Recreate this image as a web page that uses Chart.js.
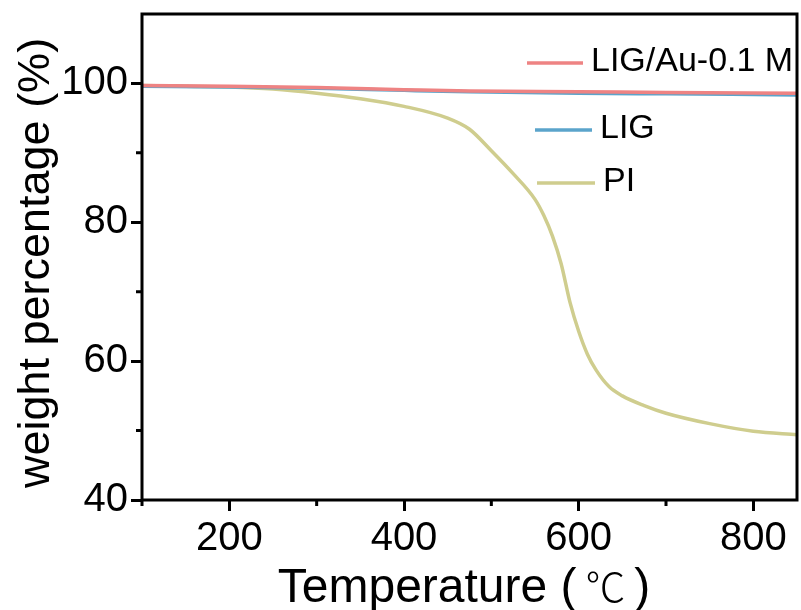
<!DOCTYPE html>
<html>
<head>
<meta charset="utf-8">
<script src="https://cdn.jsdelivr.net/npm/chart.js@4.4.0/dist/chart.umd.min.js"></script>
<style>
    html, body { margin: 0; padding: 0; background: #fff; }
    canvas { display: block; }
</style>
</head>
<body>
<canvas id="tgaChart" width="801" height="610"></canvas>
<script>
// TGA curves: temperature (°C) vs remaining weight (%)
const piTemp = [100, 150, 200, 250, 300, 350, 400, 450, 475, 500, 525, 550, 560, 570, 580, 590, 600, 610, 620, 635, 650, 675, 700, 750, 800, 850];
const piWeight = [99.7, 99.6, 99.5, 99.2, 98.6, 97.8, 96.7, 95.0, 93.4, 90.3, 87.0, 83.3, 81.0, 78.0, 74.0, 68.5, 64.3, 61.0, 58.7, 56.3, 55.0, 53.6, 52.5, 51.0, 49.9, 49.4];

const ligTemp = [100, 200, 300, 400, 475, 600, 700, 850];
const ligWeight = [99.6, 99.5, 99.3, 99.0, 98.8, 98.6, 98.5, 98.35];
const ligAuWeight = [99.7, 99.6, 99.4, 99.1, 98.9, 98.8, 98.7, 98.6];

const xTicks = [200, 400, 600, 800];
const xMinorTicks = [100, 300, 500, 700];
const yTicks = [40, 60, 80, 100];
const yMinorTicks = [50, 70, 90];

const FONT = "'Liberation Sans', Arial, sans-serif";
const CJK_FONT = "'Noto Sans CJK SC', sans-serif";

function toPoints(xs, ys) {
    return xs.map((t, i) => ({ x: t, y: ys[i] }));
}

// x title mixes Latin text with the CJK degree-Celsius sign
function drawXTitle(ctx, cx, cy) {
    const parts = [
        { text: 'Temperature (', font: '48px ' + FONT },
        { text: ' ℃ ', font: '300 40px ' + CJK_FONT },
        { text: ')', font: '48px ' + FONT },
    ];
    let total = 0;
    parts.forEach(p => { ctx.font = p.font; p.w = ctx.measureText(p.text).width; total += p.w; });
    let x = cx - total / 2;
    ctx.textAlign = 'left';
    ctx.textBaseline = 'alphabetic';
    parts.forEach(p => {
        ctx.font = p.font;
        ctx.fillText(p.text, x, cy);
        x += p.w;
    });
}

// frame, minor ticks, axis titles and the legend
const tgaDecor = {
    id: 'tgaDecor',
    afterDraw(chart) {
        const { ctx, chartArea: a, scales: { x, y } } = chart;
        ctx.save();
        ctx.strokeStyle = '#000';
        ctx.lineWidth = 3;
        ctx.strokeRect(a.left, a.top, a.right - a.left, a.bottom - a.top);

        ctx.beginPath();
        xMinorTicks.forEach(v => {
            const px = x.getPixelForValue(v);
            ctx.moveTo(px, a.bottom);
            ctx.lineTo(px, a.bottom + 6);
        });
        yMinorTicks.forEach(v => {
            const py = y.getPixelForValue(v);
            ctx.moveTo(a.left, py);
            ctx.lineTo(a.left - 6, py);
        });
        ctx.stroke();

        ctx.fillStyle = '#000';
        drawXTitle(ctx, 464, 602);

        ctx.save();
        ctx.translate(37, 263);
        ctx.rotate(-Math.PI / 2);
        ctx.textAlign = 'center';
        ctx.textBaseline = 'middle';
        ctx.font = '45px ' + FONT;
        ctx.fillText('weight percentage (%)', 0, 0);
        ctx.restore();

        // legend entries sit at their own spots inside the plot
        const spots = [
            { x1: 527, x2: 583, y: 63 },
            { x1: 535, x2: 592, y: 130 },
            { x1: 537, x2: 595, y: 183 }
        ];
        ctx.textAlign = 'left';
        ctx.textBaseline = 'middle';
        ctx.font = '34px ' + FONT;
        chart.data.datasets.forEach((ds, i) => {
            const s = spots[i];
            ctx.strokeStyle = ds.borderColor;
            ctx.lineWidth = 3.5;
            ctx.beginPath();
            ctx.moveTo(s.x1, s.y);
            ctx.lineTo(s.x2, s.y);
            ctx.stroke();
            ctx.fillStyle = '#000';
            ctx.fillText(ds.label, s.x2 + 8, s.y - 1);
        });
        ctx.restore();
    }
};

const ctx = document.getElementById('tgaChart').getContext('2d');
const tgaChart = new Chart(ctx, {
    type: 'line',
    data: {
        datasets: [{
            label: 'LIG/Au-0.1 M',
            data: toPoints(ligTemp, ligAuWeight),
            borderColor: '#ee8383',
            borderWidth: 3.5,
            order: 0,
        }, {
            label: 'LIG',
            data: toPoints(ligTemp, ligWeight),
            borderColor: '#5ba4cb',
            borderWidth: 3.5,
            order: 1,
        }, {
            label: 'PI',
            data: toPoints(piTemp, piWeight),
            borderColor: '#cfcd8e',
            borderWidth: 3.5,
            order: 2,
        }],
    },
    options: {
        responsive: false,
        animation: false,
        events: [],
        elements: {
            point: { radius: 0 },
            line: { cubicInterpolationMode: 'monotone' },
        },
        layout: { padding: { top: 14, right: 4, left: 0, bottom: 0 } },
        plugins: {
            legend: { display: false },
            tooltip: { enabled: false },
        },
        scales: {
            x: {
                type: 'linear',
                min: 100,
                max: 850,
                afterBuildTicks: s => { s.ticks = xTicks.map(v => ({ value: v })); },
                afterFit: s => { s.height = 110; s.paddingLeft = 0; s.paddingRight = 0; },
                border: { display: false },
                grid: { drawOnChartArea: false, tickLength: 11, tickWidth: 3, tickColor: '#000' },
                ticks: { color: '#000', padding: 4, maxRotation: 0, font: { size: 40, family: FONT } },
            },
            y: {
                min: 40,
                max: 110,
                afterBuildTicks: s => { s.ticks = yTicks.map(v => ({ value: v })); },
                afterFit: s => { s.width = 142; s.paddingTop = 0; s.paddingBottom = 0; },
                border: { display: false },
                grid: { drawOnChartArea: false, tickLength: 11, tickWidth: 3, tickColor: '#000' },
                ticks: { color: '#000', padding: 3, font: { size: 40, family: FONT } },
            },
        },
    },
    plugins: [tgaDecor],
});
</script>
</body>
</html>
